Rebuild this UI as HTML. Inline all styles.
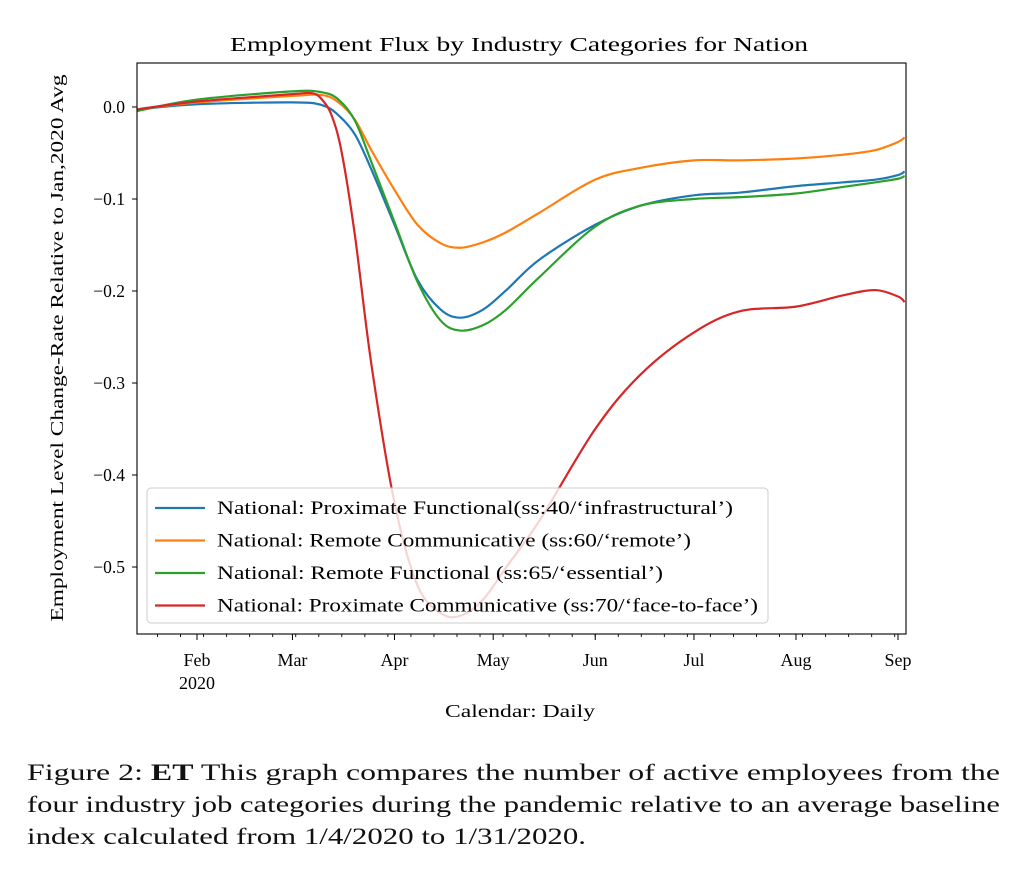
<!DOCTYPE html>
<html><head><meta charset="utf-8">
<style>
body{margin:0;background:#fff;width:1024px;height:869px;overflow:hidden;font-family:"Liberation Serif",serif;}
svg text{font-family:"Liberation Serif",serif;}
</style></head><body>
<svg id="chart" width="1024" height="869" style="position:absolute;left:0;top:0">
<g font-size="23.5" fill="#111">
<text x="27" y="780" textLength="973" lengthAdjust="spacingAndGlyphs">Figure 2: <tspan font-weight="bold">ET</tspan> This graph compares the number of active employees from the</text>
<text x="27" y="812" textLength="973" lengthAdjust="spacingAndGlyphs">four industry job categories during the pandemic relative to an average baseline</text>
<text x="27" y="844" textLength="559" lengthAdjust="spacingAndGlyphs">index calculated from 1/4/2020 to 1/31/2020.</text>
</g>
</svg>
<script>
// days since Jan 1 2020
const days = [12,31,60,69,74,79,84,91,98,105,111,118,125,135,152,166,182,196,213,227,237,244,246];
const blueVals = [-0.003,0.003,0.005,0.002,-0.009,-0.03,-0.068,-0.128,-0.188,-0.22,-0.229,-0.22,-0.199,-0.166,-0.128,-0.107,-0.096,-0.093,-0.086,-0.082,-0.079,-0.074,-0.07];
const orangeVals = [-0.003,0.005,0.012,0.013,0.005,-0.014,-0.047,-0.09,-0.128,-0.148,-0.153,-0.147,-0.136,-0.115,-0.079,-0.066,-0.058,-0.058,-0.056,-0.052,-0.047,-0.038,-0.033];
const greenVals = [-0.005,0.008,0.017,0.016,0.008,-0.015,-0.06,-0.125,-0.19,-0.232,-0.243,-0.237,-0.22,-0.185,-0.13,-0.107,-0.1,-0.098,-0.094,-0.087,-0.082,-0.078,-0.075];
const redDays = [12,31,60,66,69,72,75,79,84,91,98,105,111,118,125,135,152,166,182,196,213,227,237,244,246];
const redVals = [-0.003,0.006,0.014,0.015,0.008,-0.01,-0.05,-0.14,-0.28,-0.43,-0.52,-0.55,-0.553,-0.535,-0.5,-0.45,-0.35,-0.29,-0.245,-0.222,-0.217,-0.205,-0.199,-0.206,-0.212];
const yTicks = [0,-0.1,-0.2,-0.3,-0.4,-0.5];
const yTickLabels = ["0.0","\u22120.1","\u22120.2","\u22120.3","\u22120.4","\u22120.5"];
const monthDays = [31,60,91,121,152,182,213,244];
const monthLabels = ["Feb","Mar","Apr","May","Jun","Jul","Aug","Sep"];
const seriesNames = ["National: Proximate Functional(ss:40/\u2018infrastructural\u2019)","National: Remote Communicative (ss:60/\u2018remote\u2019)","National: Remote Functional (ss:65/\u2018essential\u2019)","National: Proximate Communicative (ss:70/\u2018face-to-face\u2019)"];
const colors = ["#1f77b4","#ff7f0e","#2ca02c","#d62728"];
const legendWidths = [516,474,446,541];

const NS="http://www.w3.org/2000/svg";
const svg=document.getElementById('chart');
const L=137,R=906,T=63,B=634;
const pxDay=(898-197)/213;
const X=d=>197+(d-31)*pxDay;
const Y=v=>107-v*920;
function mk(tag,attrs,parent){const e=document.createElementNS(NS,tag);for(const k in attrs)e.setAttribute(k,attrs[k]);(parent||svg).appendChild(e);return e;}

const defs=mk('defs',{});
const cp=mk('clipPath',{id:'clip'},defs);
mk('rect',{x:L,y:T,width:R-L,height:B-T},cp);

function smoothPath(xs,vs){
  const p=xs.map((d,i)=>[X(d),Y(vs[i])]);
  let s=`M${p[0][0]},${p[0][1]}`;
  for(let i=0;i<p.length-1;i++){
    const p0=p[Math.max(0,i-1)],p1=p[i],p2=p[i+1],p3=p[Math.min(p.length-1,i+2)];
    const c1=[p1[0]+(p2[0]-p0[0])/6,p1[1]+(p2[1]-p0[1])/6];
    const c2=[p2[0]-(p3[0]-p1[0])/6,p2[1]-(p3[1]-p1[1])/6];
    s+=` C${c1[0]},${c1[1]} ${c2[0]},${c2[1]} ${p2[0]},${p2[1]}`;
  }
  return s;
}
const g=mk('g',{'clip-path':'url(#clip)'});
const allSeries=[[days,blueVals],[days,orangeVals],[days,greenVals],[redDays,redVals]];
const seriesIds=["proximate-functional-line","remote-communicative-line","remote-functional-line","proximate-communicative-line"];
allSeries.forEach((s,i)=>{
  const p=mk('path',{d:smoothPath(s[0],s[1]),fill:'none',stroke:colors[i],'stroke-width':2.2},g);
  
  
});

const frame=mk('rect',{x:L,y:T,width:R-L,height:B-T,fill:'none',stroke:'#000','stroke-width':1.1});



yTicks.forEach((v,i)=>{
  const tk=mk('line',{x1:L-5,x2:L,y1:Y(v),y2:Y(v),stroke:'#000','stroke-width':1});
  
  
  const t=mk('text',{x:L-12,y:Y(v)+6,'text-anchor':'end','font-size':17.5});
  t.textContent=yTickLabels[i];
  
  
});
for(let d=12+7;d<248;d+=7){
  if(X(d)>R)break;
  const m=mk('line',{x1:X(d),x2:X(d),y1:B,y2:B+3,stroke:'#000','stroke-width':0.9});
  
  
}
monthDays.forEach((d,i)=>{
  const tk=mk('line',{x1:X(d),x2:X(d),y1:B,y2:B+6,stroke:'#000','stroke-width':1});
  
  
  const t=mk('text',{x:X(d),y:B+32,'text-anchor':'middle','font-size':18});
  t.textContent=monthLabels[i];
  
  
});
const yr=mk('text',{x:X(31),y:B+55,'text-anchor':'middle','font-size':18});
yr.textContent="2020";



const title=mk('text',{x:230,y:51,'font-size':20,textLength:578,lengthAdjust:'spacingAndGlyphs'});
title.textContent="Employment Flux by Industry Categories for Nation";


const xt=mk('text',{x:445,y:717,'font-size':17.5,textLength:150,lengthAdjust:'spacingAndGlyphs'});
xt.textContent="Calendar: Daily";


const yt=mk('text',{x:-273.5,y:0,'font-size':17.5,textLength:547,lengthAdjust:'spacingAndGlyphs',transform:'translate(63,348) rotate(-90)'});
yt.textContent="Employment Level Change-Rate Relative to Jan,2020 Avg";



const lg=mk('g',{});


mk('rect',{x:147,y:488,width:621,height:135,rx:4,fill:'rgba(255,255,255,0.8)',stroke:'#ccc','stroke-width':1},lg);
seriesNames.forEach((n,i)=>{
  const yy=508+i*32.5;
  const e=mk('g',{},lg);
  
  
  mk('line',{x1:155,x2:205,y1:yy,y2:yy,stroke:colors[i],'stroke-width':2.2},e);
  const t=mk('text',{x:217,y:yy+6,'font-size':18.5,textLength:legendWidths[i],lengthAdjust:'spacingAndGlyphs'},e);
  t.textContent=n;
});
</script>
</body></html>
